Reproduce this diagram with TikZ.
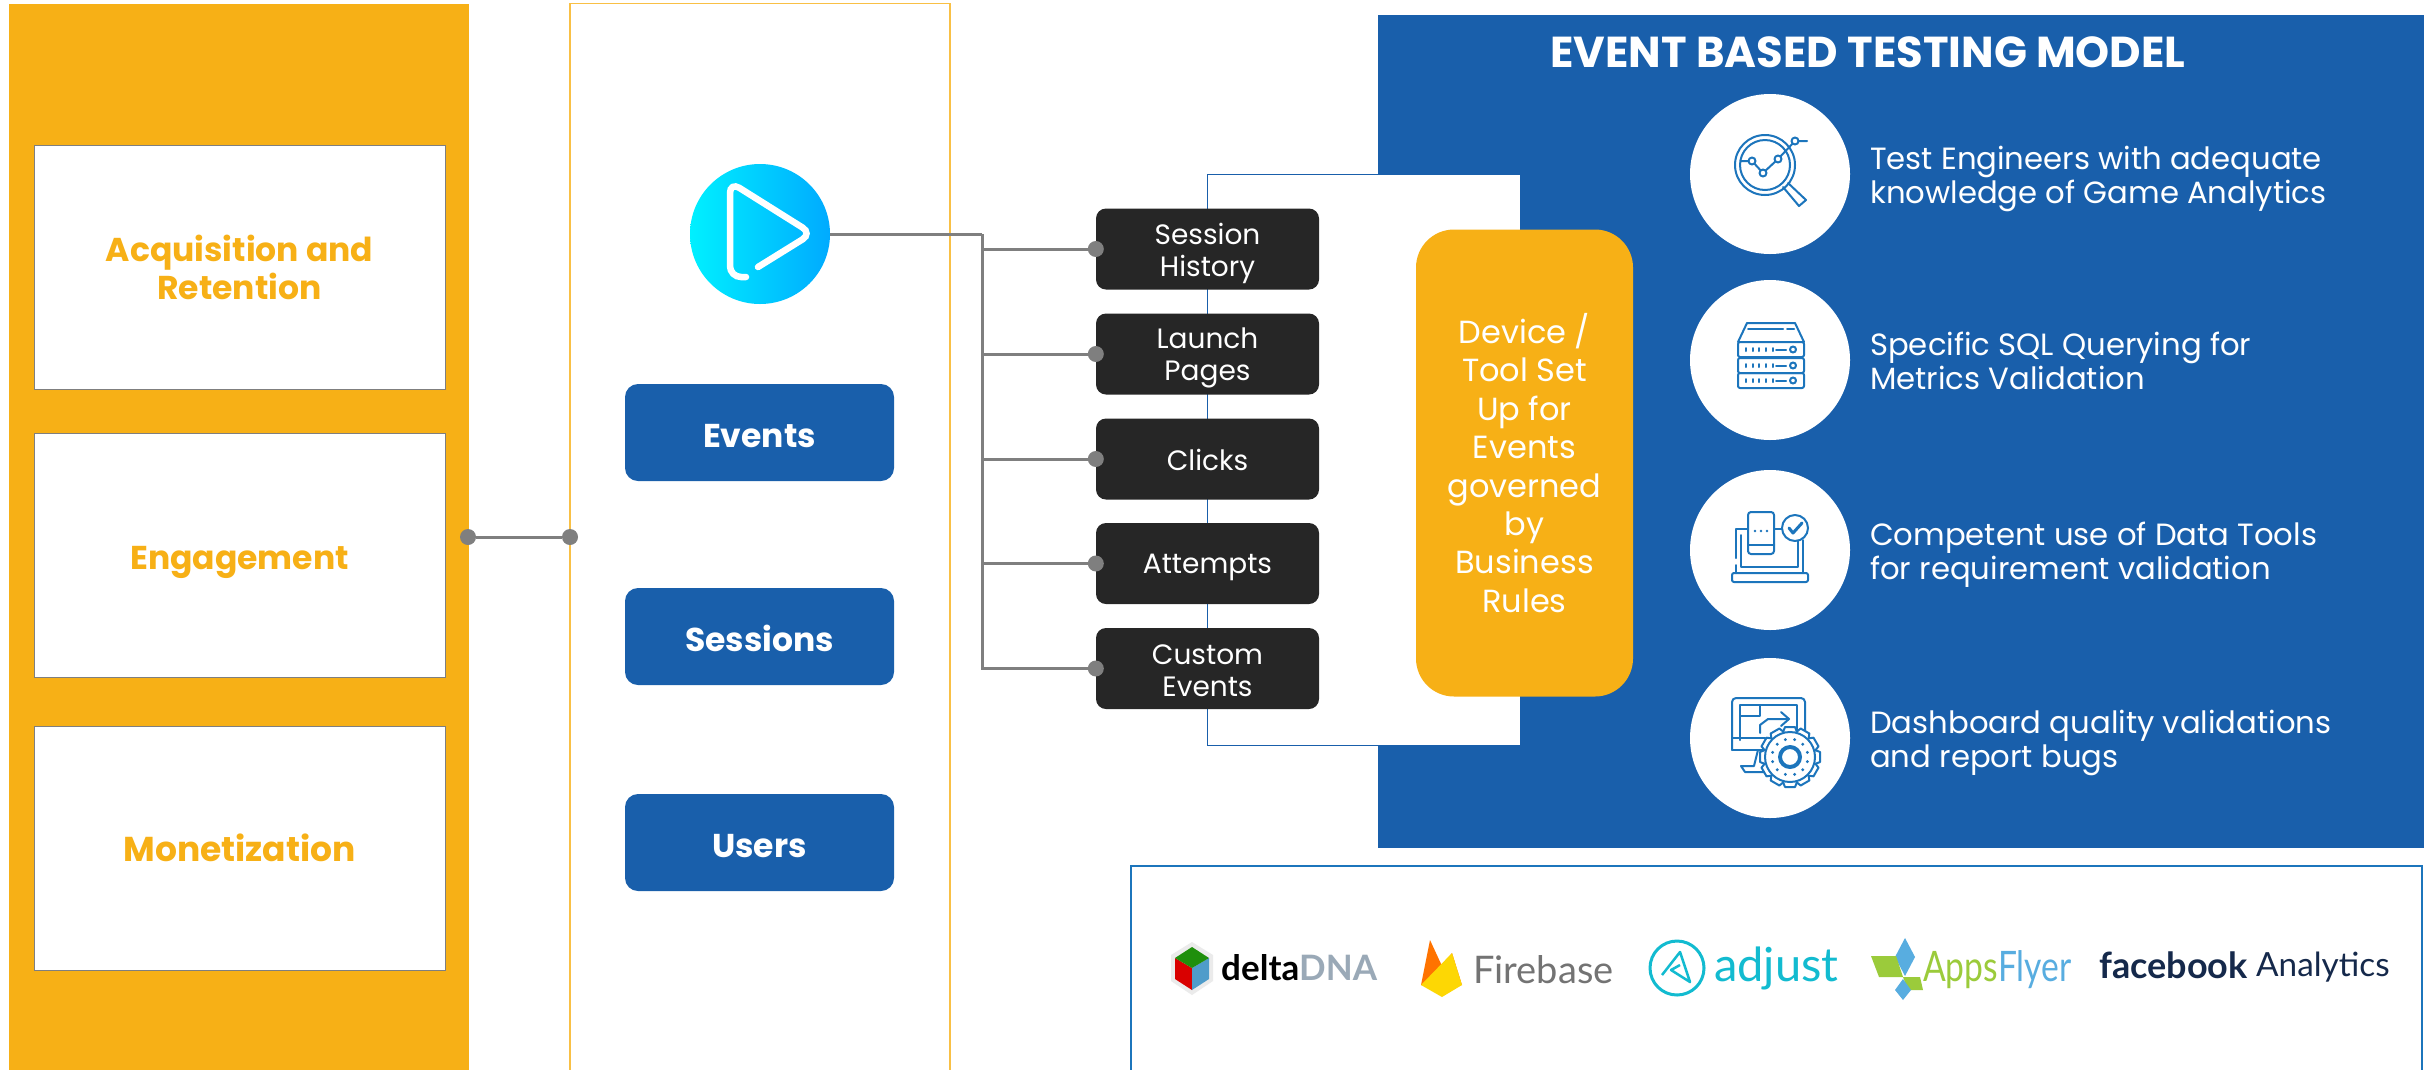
\documentclass[tikz,border=0pt]{standalone}
\usepackage{fontspec}
\setmainfont{Poppins}
\newfontfamily\logofont{Lato}
\definecolor{bandyellow}{HTML}{F7B016}
\definecolor{panelblue}{HTML}{195FAB}
\definecolor{boxdark}{HTML}{262626}
\definecolor{wiregray}{HTML}{7F7F7F}
\definecolor{iconblue}{HTML}{1C75BC}
\definecolor{playleft}{HTML}{00F0FF}
\definecolor{playright}{HTML}{00AAFF}
\definecolor{adjustcyan}{HTML}{12BBD0}
\definecolor{flyergreen}{HTML}{9BCB3B}
\definecolor{flyerblue}{HTML}{58ADE0}
\definecolor{dnagray}{HTML}{9AA9B7}
\definecolor{fbnavy}{HTML}{15294B}
\tikzset{
panel/.style={draw=#1, fill=#1, rectangle, inner sep=0pt},
metricbox/.style={draw=wiregray, line width=1pt, fill=white, rectangle, minimum width=411pt, minimum height=244pt, align=center, text=bandyellow, font=\fontsize{33}{38}\selectfont\bfseries},
levelbtn/.style={fill=panelblue, rectangle, rounded corners=13pt, minimum width=269pt, minimum height=97pt, text height=29pt, text depth=0pt, text=white, font=\fontsize{33}{36}\selectfont\bfseries},
eventbox/.style={fill=boxdark, rectangle, rounded corners=10pt, minimum width=223pt, minimum height=81pt},
eventtext/.style={align=center, text=white, inner sep=0pt, font=\fontsize{28}{32}\selectfont},
pointcircle/.style={fill=white, circle, minimum size=160pt, inner sep=0pt},
pointtext/.style={anchor=west, align=left, text=white, inner sep=0pt, font=\fontsize{30.7}{34.5}\selectfont},
dot/.style={fill=wiregray, circle, minimum size=16pt, inner sep=0pt},
wire/.style={draw=wiregray, line width=3pt},
icon/.style={draw=iconblue, line width=2pt, line join=round, line cap=round},
logotext/.style={anchor=west, inner sep=0pt, font=\logofont\fontsize{#1}{#1}\selectfont},
}

\begin{document}
\begin{tikzpicture}[x=1pt, y=-1pt]
    \useasboundingbox (0,0) rectangle (2425,1069);
    \node[panel=bandyellow, minimum width=459pt, minimum height=1065pt] (band) at (238.5,536.5) {};
    \node[draw=bandyellow!80!white, line width=1.5pt, rectangle, minimum width=380pt, minimum height=1069pt] (column) at (760,538) {};
    \node[metricbox] (acquisition) at (239.5,267) {Acquisition and\\Retention};
    \node[metricbox, text height=28pt, text depth=0pt] (engagement) at (239.5,555) {Engagement};
    \node[metricbox, font=\fontsize{34.5}{38}\selectfont\bfseries] (monetization) at (239.5,848) {Monetization};
    \node[dot] (bandport) at (468,537) {};
    \node[dot] (columnport) at (570,537) {};
    \draw[wire] (bandport)--(columnport);

    \node[left color=playleft, right color=playright, circle, minimum size=140pt, inner sep=0pt] (play) at (760,234) {};
    \draw[white, line width=6.5pt, line cap=round, rounded corners=11pt] (746,277)--(730,277)--(730,182)--(812,233.5)--(758,267);
    \node[levelbtn] (events) at (759.5,432.5) {Events};
    \node[levelbtn] (sessions) at (759.5,636.5) {Sessions};
    \node[levelbtn] (users) at (759.5,842.5) {Users};

    \node[draw=iconblue, line width=1.5pt, fill=white, rectangle, minimum width=1291pt, minimum height=220pt] (tools) at (1776.5,976) {};
    \node[panel=panelblue, minimum width=1045pt, minimum height=832pt] (model) at (1900.5,431) {};
    \node[draw=panelblue, line width=1.5pt, fill=white, rectangle, minimum width=313pt, minimum height=571pt] (setup) at (1364,460) {};
    \node[fill=bandyellow, rectangle, rounded corners=38pt, minimum width=217pt, minimum height=467pt, align=center, text=white, font=\fontsize{32}{38.4}\selectfont] (rules) at (1524.5,463) {Device /\\Tool Set\\Up for\\Events\\governed\\by\\Business\\Rules};

    \foreach \evt/\y/\drop/\txt in {history/249/4/{Session\\History}, launch/354/4/{Launch\\Pages}, clicks/459/1/{Clicks}, attempts/563.5/4/{Attempts}, custom/668.5/2/{Custom\\Events}} {
        \node[eventbox] (\evt) at (1207.5,\y) {};
        \node[eventtext] (\evt text) at ([yshift=-\drop pt]\evt.center) {\txt};
    }
    \coordinate (trunk) at (982,234);
    \draw[wire] (play.east)--(trunk);
    \draw[wire] (trunk)|-(custom.west);
    \foreach \evt in {history, launch, clicks, attempts} {
        \draw[wire] (trunk|-\evt.west)--(\evt.west);
    }
    \foreach \evt in {history, launch, clicks, attempts, custom} {
        \node[dot] (\evt port) at (\evt.west) {};
    }

    \node[text=white, font=\fontsize{43.3}{48}\selectfont\bfseries] (title) at (1868,52) {EVENT BASED TESTING MODEL};
    \node[pointcircle] (engineers) at (1770,174) {};
    \node[pointcircle] (querying) at (1770,360) {};
    \node[pointcircle] (datatools) at (1770,550) {};
    \node[pointcircle] (dashboard) at (1770,738) {};
    \node[pointtext] (engineerstext) at (1870,179) {Test Engineers with adequate\\knowledge of Game Analytics};
    \node[pointtext] (queryingtext) at (1870,361) {Specific SQL Querying for\\Metrics Validation};
    \node[pointtext] (datatoolstext) at (1870,555) {Competent use of Data Tools\\for requirement validation};
    \node[pointtext] (dashboardtext) at (1870,743) {Dashboard quality validations\\and report bugs};

    \draw[icon] (1765,165) circle (30pt) (1765,165) circle (25pt);
    \draw[icon] (1783,187)--(1799,206)--(1806,200)--(1788,183);
    \draw[icon] (1741,161)--(1752,161)--(1763,173)--(1778,159)--(1795,141)--(1807,141);
    \foreach \x/\y in {1752/161, 1763/173, 1778/159, 1795/141} {
        \draw[icon, fill=white] (\x,\y) circle (3.5pt);
    }

    \draw[icon] (1738,342)--(1747,323)--(1795,323)--(1804,342);
    \draw[icon] (1748,329)--(1783,329) (1787,329)--(1794,329);
    \foreach \y in {342, 358, 373} {
        \draw[icon, rounded corners=2pt] (1738,\y) rectangle (1804,\y+15);
        \draw[icon] (1776,\y+7.5)--(1786,\y+7.5);
        \draw[icon] (1793,\y+7.5) circle (3pt);
        \foreach \x in {1746, 1753, 1759, 1766, 1773} {
            \draw[icon] (\x,\y+6)--(\x,\y+9);
        }
    }

    \draw[icon, rounded corners=2pt] (1732,573) rectangle (1808,582);
    \draw[icon] (1736,565)--(1736,573) (1736,558)--(1736,529)--(1748,529) (1774,529)--(1782,529) (1803,540)--(1803,573);
    \draw[icon] (1741,535)--(1741,567)--(1798,567)--(1798,541);
    \draw[icon, fill=white, rounded corners=3pt] (1748,512) rectangle (1774,554);
    \draw[icon] (1748,545)--(1774,545);
    \foreach \x in {1755, 1761, 1767} {
        \fill[iconblue] (\x,531) circle (1.4pt);
    }
    \draw[icon, fill=white] (1795,528) circle (13pt);
    \draw[icon, line width=3pt] (1789,528)--(1793,533)--(1802,523);

    \draw[icon, rounded corners=4pt] (1732,750)--(1732,698)--(1805,698)--(1805,735);
    \draw[icon] (1740,740)--(1740,705)--(1797,705)--(1797,730) (1740,716)--(1760,716)--(1760,705) (1732,738)--(1765,738) (1732,750)--(1765,750);
    \draw[icon] (1760,733)--(1760,725)--(1768,719)--(1788,719);
    \draw[icon] (1781,712)--(1789,719)--(1781,726);
    \draw[icon] (1758,750)--(1754,766)--(1741,766)--(1745,772)--(1768,772);
    \foreach \a in {0,30,...,330} {
        \draw[icon, fill=white, rotate around={\a:(1790,757)}] (1783,732)--(1785,727)--(1795,727)--(1797,732);
    }
    \draw[icon, fill=white] (1790,757) circle (25pt);
    \draw[icon] (1790,757) circle (11pt) (1790,757) circle (9pt);
    \foreach \a in {15,45,...,345} {
        \fill[iconblue] (1790,757)+(\a:18) circle (1.6pt);
    }

    \fill[black!8] (1192,942)--(1213,955)--(1213,981)--(1192,995)--(1171,981)--(1171,955)--cycle;
    \fill[red!85!black] (1192,968)--(1192,990)--(1175,979)--(1175,958)--cycle;
    \fill[flyerblue!90!black] (1192,968)--(1192,990)--(1209,979)--(1209,958)--cycle;
    \fill[green!50!black!80!flyergreen] (1192,968)--(1175,958)--(1192,947)--(1209,958)--cycle;
    \node[logotext=35, text=black] (deltaname) at (1221,968) {\textbf{delta}\textcolor{dnagray}{\textbf{DNA}}};

    \fill[orange!90!red] (1421,985)--(1430,940)--(1442,966)--(1452,953)--(1462,985)--cycle;
    \fill[yellow!75!orange] (1421,985)--(1452,953)--(1462,985)--(1442,997)--cycle;
    \node[logotext=38, text=black!55] (firebasename) at (1473,970) {Firebase};

    \draw[adjustcyan, line width=3pt] (1677,968) circle (27pt);
    \draw[adjustcyan, line width=2.5pt, line join=round] (1662,975)--(1680,952)--(1690,982)--(1671,970)--(1680,965);
    \node[logotext=47, text=adjustcyan] (adjustname) at (1714,968) {adjust};

    \fill[flyerblue] (1905,938)--(1915,957)--(1905,976)--(1895,957)--cycle;
    \fill[flyergreen] (1871,956)--(1896,956)--(1903,977)--(1879,977)--cycle;
    \fill[flyergreen] (1903,977)--(1920,977)--(1923,990)--(1908,990)--cycle;
    \fill[flyerblue] (1903,979)--(1911,990)--(1903,1000)--(1895,990)--cycle;
    \node[logotext=42, text=flyergreen] (flyername) at (1923,970) {\scalebox{.8}[1]{Apps\textcolor{flyerblue}{Flyer}}};

    \node[logotext=36, text=fbnavy] (facebookname) at (2099,965) {\textbf{facebook}};
    \node[logotext=33.3, text=fbnavy] (analyticsname) at (2256,967) {Analytics};
\end{tikzpicture}
\end{document}
